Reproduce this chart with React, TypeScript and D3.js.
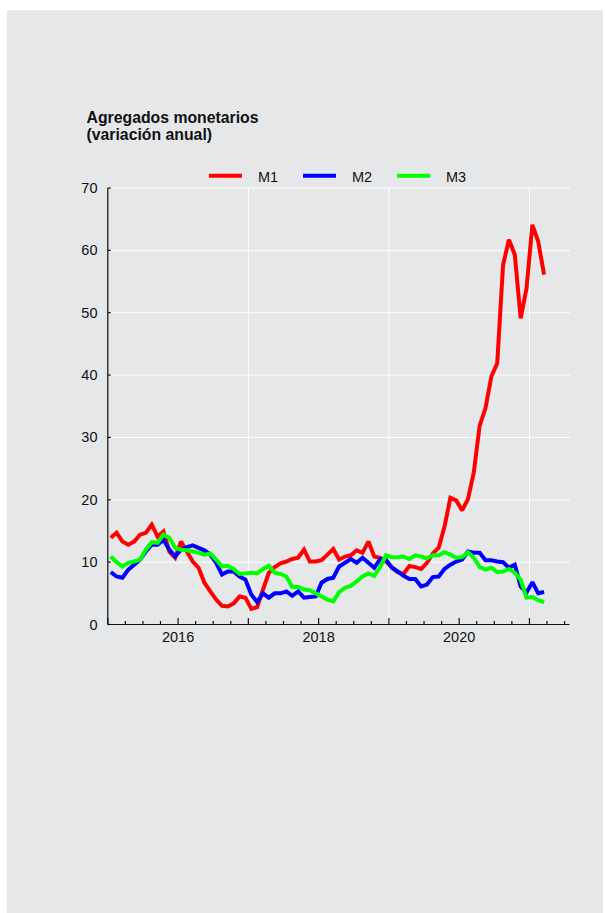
import React from "react";
import * as d3 from "d3";

const startYear = 2015;
const m1 = [
  13.9, 14.7, 13.3, 12.8, 13.3, 14.4, 14.7, 16.0, 14.1, 14.9, 11.7, 10.7,
  13.3, 11.7, 10.1, 9.1, 6.7, 5.3, 4.0, 3.0, 2.9, 3.4, 4.5, 4.3,
  2.5, 2.8, 5.6, 8.3, 9.2, 9.8, 10.1, 10.5, 10.7, 12.0, 10.1, 10.1,
  10.3, 11.2, 12.1, 10.4, 10.9, 11.1, 11.9, 11.5, 13.3, 10.9, 10.7, 10.1,
  9.2, 8.4, 8.1, 9.4, 9.2, 8.9, 9.9, 11.4, 12.3, 15.7, 20.3, 19.9,
  18.3, 20.1, 24.4, 31.9, 34.7, 39.8, 41.9, 57.7, 61.7, 59.3, 49.1, 53.9,
  64.1, 61.4, 56.1,
];
const m2 = [
  8.4, 7.7, 7.5, 8.8, 9.6, 10.4, 11.7, 12.8, 12.8, 13.6, 12.0, 10.9,
  12.0, 12.4, 12.7, 12.3, 11.9, 11.2, 9.9, 8.0, 8.5, 8.5, 7.7, 7.2,
  4.8, 3.6, 5.0, 4.3, 5.0, 5.0, 5.3, 4.6, 5.3, 4.3, 4.4, 4.5,
  6.7, 7.3, 7.5, 9.3, 9.9, 10.5, 9.9, 10.7, 9.9, 9.1, 10.5, 10.4,
  9.1, 8.5, 7.8, 7.3, 7.3, 6.1, 6.4, 7.6, 7.7, 8.9, 9.6, 10.1,
  10.4, 11.7, 11.5, 11.5, 10.3, 10.3, 10.1, 10.0, 9.1, 9.6, 6.1, 5.1,
  6.8, 5.0, 5.2,
];
const m3 = [
  10.9, 10.0, 9.3, 9.9, 10.1, 10.4, 12.0, 13.2, 13.1, 14.4, 13.9, 12.3,
  12.0, 11.9, 11.7, 11.5, 11.2, 11.4, 10.4, 9.3, 9.4, 8.9, 8.1, 8.2,
  8.3, 8.2, 8.9, 9.4, 8.3, 8.1, 7.7, 6.0, 6.0, 5.6, 5.5, 5.0,
  4.5, 4.0, 3.7, 5.2, 5.9, 6.2, 6.9, 7.7, 8.2, 7.8, 9.2, 11.1,
  10.8, 10.8, 10.9, 10.5, 11.1, 10.9, 10.6, 11.1, 11.1, 11.6, 11.2, 10.7,
  10.8, 11.6, 10.7, 9.2, 8.8, 9.1, 8.4, 8.5, 8.9, 8.3, 7.2, 4.3,
  4.4, 3.9, 3.6,
];
const seriesNames = ["M1", "M2", "M3"];
const seriesColors = ["#ff0000", "#0000ff", "#00ff00"];
const yTicks = [0, 10, 20, 30, 40, 50, 60, 70];
const xLabelYears = [2016, 2018, 2020];
const xGridYears = [2017, 2019, 2021];
const xDomain = [2015, 2021.57];

export default function App() {
  const x = d3.scaleLinear().domain(xDomain).range([107.8, 569.5]);
  const y = d3.scaleLinear().domain([0, 70]).range([624.5, 188]);
  const font = "'Liberation Sans', Arial, Helvetica, sans-serif";
  const all = [m1, m2, m3];
  const line = d3
    .line<number>()
    .x((_, i) => x(startYear + (i + 0.5) / 12))
    .y((d) => y(d));

  const quarterTicks: number[] = [];
  for (let t = 2015; t <= xDomain[1] + 1e-9; t += 0.25) quarterTicks.push(+t.toFixed(2));

  const legendX = [209, 303, 397];

  return (
    <svg
      width={605}
      height={913}
      style={{ position: "absolute", left: 0, top: 0 }}
      fontFamily={font}
    >
      <rect x={7} y={10} width={596} height={903} fill="#e6e7e9" />
      <text x={86.5} y={123} fontSize={15.8} fontWeight="bold" fill="#111">
        Agregados monetarios
      </text>
      <text x={86.5} y={139.5} fontSize={15.8} fontWeight="bold" fill="#111">
        (variación anual)
      </text>

      {seriesNames.map((n, i) => (
        <g key={n}>
          <line
            x1={legendX[i]}
            x2={legendX[i] + 33}
            y1={175.7}
            y2={175.7}
            stroke={seriesColors[i]}
            strokeWidth={4}
          />
          <text x={legendX[i] + 49} y={181.5} fontSize={14.5} fill="#111">
            {n}
          </text>
        </g>
      ))}

      {yTicks.slice(1).map((t) => (
        <line key={"g" + t} x1={x(xDomain[0])} x2={570} y1={y(t)} y2={y(t)} stroke="#fff" strokeWidth={1} />
      ))}
      {xGridYears.map((t) => (
        <line key={"v" + t} x1={x(t)} x2={x(t)} y1={y(70)} y2={y(0)} stroke="#fff" strokeWidth={1} />
      ))}

      {all.map((s, i) => (
        <path
          key={i}
          d={line(s) || ""}
          fill="none"
          stroke={seriesColors[i]}
          strokeWidth={4}
          strokeLinejoin="miter"
          strokeMiterlimit={2}
        />
      ))}

      <line x1={x(xDomain[0])} x2={x(xDomain[0])} y1={y(70)} y2={y(0)} stroke="#111" strokeWidth={1.2} />
      {yTicks.map((t) => (
        <g key={"y" + t}>
          <line x1={x(xDomain[0])} x2={x(xDomain[0]) + 3} y1={y(t)} y2={y(t)} stroke="#111" strokeWidth={1.2} />
          <text x={97.5} y={y(t) + 5} fontSize={14.5} textAnchor="end" fill="#111">
            {t}
          </text>
        </g>
      ))}

      <line x1={x(xDomain[0])} x2={x(xDomain[1])} y1={y(0)} y2={y(0)} stroke="#111" strokeWidth={1.2} />
      {quarterTicks.map((t) => {
        const major = Math.abs(t - Math.round(t)) < 1e-6;
        return (
          <line
            key={"q" + t}
            x1={x(t)}
            x2={x(t)}
            y1={y(0)}
            y2={y(0) - (major ? 6.5 : 3.5)}
            stroke="#111"
            strokeWidth={1.2}
          />
        );
      })}
      {xLabelYears.map((t) => (
        <text key={"xl" + t} x={x(t)} y={642} fontSize={14.5} textAnchor="middle" fill="#111">
          {t}
        </text>
      ))}
    </svg>
  );
}
